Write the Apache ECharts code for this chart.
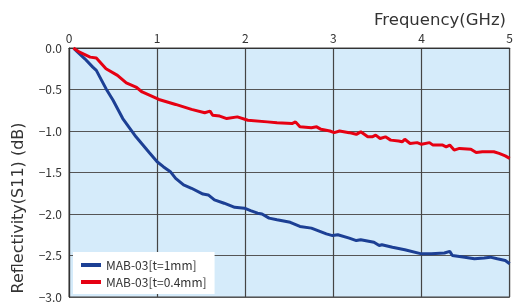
<!DOCTYPE html>
<html>
<head>
<meta charset="utf-8">
<script src="https://cdn.jsdelivr.net/npm/echarts@6/dist/echarts.min.js"></script>
<style>
    html, body { margin: 0; padding: 0; background: #fff; }
    #main { width: 516px; height: 303px; }
</style>
</head>
<body>
<div id="main"></div>
<script>
// MAB-03 t=1mm (blue)
var freqThick = [0.06, 0.18, 0.27, 0.31, 0.37, 0.42, 0.50, 0.61, 0.76, 0.91, 1.00, 1.07, 1.15, 1.21, 1.30, 1.39,
    1.52, 1.58, 1.65, 1.76, 1.88, 1.99, 2.06, 2.14, 2.19, 2.27, 2.36, 2.51, 2.62, 2.75, 2.92, 2.99, 3.05,
    3.18, 3.26, 3.31, 3.46, 3.52, 3.55, 3.67, 3.81, 4.00, 4.11, 4.26, 4.32, 4.35, 4.49, 4.60, 4.71, 4.78,
    4.86, 4.95, 5.00];
var reflThick = [-0.01, -0.13, -0.23, -0.27, -0.39, -0.49, -0.63, -0.85, -1.07, -1.26, -1.37, -1.43, -1.49, -1.57, -1.65, -1.69,
    -1.76, -1.77, -1.83, -1.87, -1.92, -1.93, -1.96, -1.99, -2.00, -2.05, -2.07, -2.10, -2.15, -2.17, -2.24, -2.26, -2.25,
    -2.29, -2.32, -2.31, -2.34, -2.38, -2.37, -2.40, -2.43, -2.48, -2.48, -2.47, -2.45, -2.50, -2.52, -2.54, -2.53, -2.52,
    -2.54, -2.56, -2.60];

// MAB-03 t=0.4mm (red)
var freqThin = [0.05, 0.12, 0.24, 0.31, 0.42, 0.55, 0.65, 0.76, 0.83, 1.02, 1.21, 1.39, 1.54, 1.60, 1.63, 1.71,
    1.79, 1.91, 2.03, 2.25, 2.36, 2.53, 2.57, 2.62, 2.75, 2.77, 2.81, 2.86, 2.96, 3.01, 3.07, 3.18, 3.26,
    3.31, 3.39, 3.44, 3.48, 3.53, 3.59, 3.65, 3.74, 3.78, 3.81, 3.87, 3.95, 3.96, 4.00, 4.09, 4.13, 4.24,
    4.28, 4.32, 4.37, 4.43, 4.56, 4.62, 4.69, 4.82, 4.88, 4.95, 5.00];
var reflThin = [0.00, -0.05, -0.11, -0.12, -0.25, -0.33, -0.42, -0.47, -0.53, -0.62, -0.68, -0.74, -0.78, -0.76, -0.81, -0.82,
    -0.85, -0.83, -0.87, -0.89, -0.90, -0.91, -0.89, -0.95, -0.96, -0.98, -0.95, -0.98, -1.00, -1.02, -1.00, -1.02, -1.04,
    -1.01, -1.07, -1.07, -1.05, -1.09, -1.07, -1.11, -1.12, -1.13, -1.10, -1.15, -1.14, -1.12, -1.16, -1.14, -1.17, -1.17,
    -1.19, -1.17, -1.23, -1.21, -1.22, -1.26, -1.25, -1.25, -1.27, -1.30, -1.33];

var seriesNames = ['MAB-03[t=1mm]', 'MAB-03[t=0.4mm]'];
var seriesColors = ['#1c3f94', '#e60012'];

function pairs(xs, ys) {
    var out = [];
    for (var i = 0; i < xs.length; i++) {
        out.push([xs[i], ys[i]]);
    }
    return out;
}

var tickFont = '"Noto Sans CJK JP", "Noto Sans", sans-serif';
var nameFont = '"DejaVu Sans", sans-serif';

var myChart = echarts.init(document.getElementById('main'));
var option = {
    animation: false,
    title: {
        text: 'Frequency(GHz)',
        right: 5,
        top: 7,
        textStyle: { fontFamily: nameFont, fontSize: 16.5, fontWeight: 'normal', color: '#333' }
    },
    grid: {
        left: 69,
        right: 0,
        top: 48,
        bottom: 3,
        show: true,
        backgroundColor: '#d5ebfa',
        borderColor: '#444',
        borderWidth: 1
    },
    legend: {
        data: seriesNames,
        orient: 'vertical',
        left: 73,
        top: 252,
        backgroundColor: '#fff',
        padding: [7, 8, 6, 8],
        itemGap: 5,
        itemWidth: 20,
        itemHeight: 4,
        icon: 'rect',
        textStyle: { fontFamily: tickFont, fontSize: 12, color: '#333' }
    },
    xAxis: {
        type: 'value',
        position: 'top',
        min: 0,
        max: 5,
        interval: 1,
        axisLine: { show: true, lineStyle: { color: '#333', width: 1.2 } },
        axisTick: { show: false },
        axisLabel: { margin: 4, fontFamily: tickFont, fontSize: 12, color: '#333' },
        splitLine: { show: true, lineStyle: { color: '#444', width: 1.2 } }
    },
    yAxis: {
        type: 'value',
        min: -3,
        max: 0,
        interval: 0.5,
        axisLine: { show: true, lineStyle: { color: '#333', width: 1.2 } },
        axisTick: { show: false },
        axisLabel: {
            margin: 7,
            fontFamily: tickFont,
            fontSize: 12,
            color: '#333',
            formatter: function (v) {
                return v.toFixed(1).replace('-', '\u2212');
            }
        },
        splitLine: { show: true, lineStyle: { color: '#555', width: 1.2 } }
    },
    graphic: [{
        type: 'text',
        x: 19,
        y: 208,
        rotation: Math.PI / 2,
        style: {
            text: 'Reflectivity(S11) (dB)',
            fontFamily: nameFont,
            fontSize: 16,
            fill: '#333',
            align: 'center',
            verticalAlign: 'middle'
        }
    }],
    series: [{
        name: seriesNames[0],
        type: 'line',
        data: pairs(freqThick, reflThick),
        showSymbol: false,
        color: seriesColors[0],
        lineStyle: { width: 3, color: seriesColors[0] }
    }, {
        name: seriesNames[1],
        type: 'line',
        data: pairs(freqThin, reflThin),
        showSymbol: false,
        color: seriesColors[1],
        lineStyle: { width: 3, color: seriesColors[1] }
    }]
};
myChart.setOption(option);
</script>
</body>
</html>
